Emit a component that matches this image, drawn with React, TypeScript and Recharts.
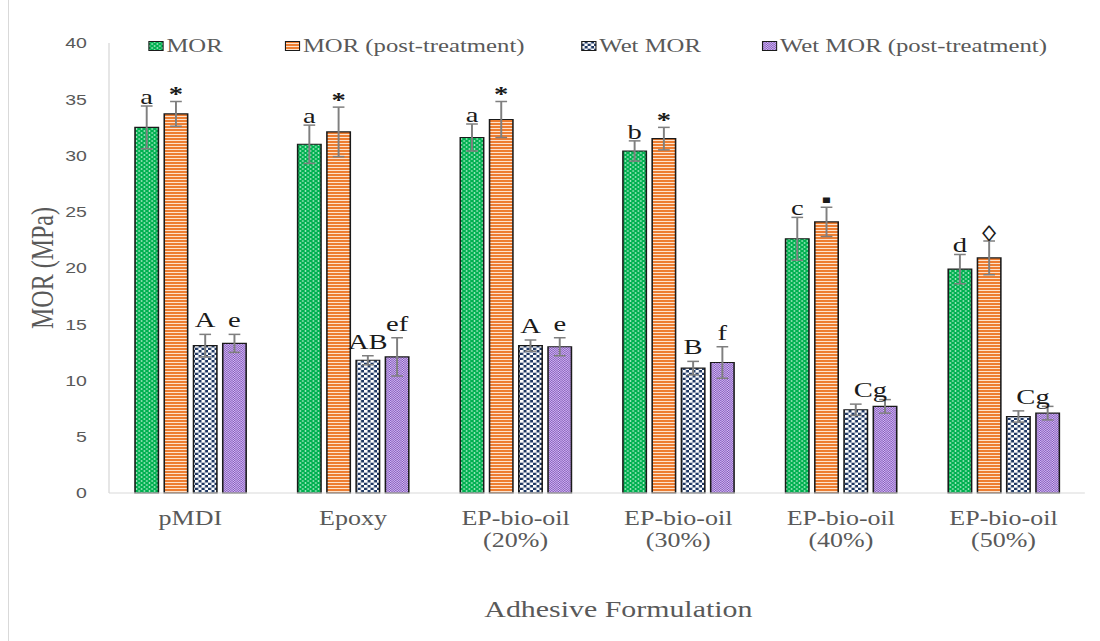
import React from "react";
import { Bar, BarChart, ErrorBar, LabelList, Legend, XAxis, YAxis } from "recharts";

const formulations = [
  "pMDI",
  "Epoxy",
  "EP-bio-oil (20%)",
  "EP-bio-oil (30%)",
  "EP-bio-oil (40%)",
  "EP-bio-oil (50%)",
];
const mor = [32.5, 31.0, 31.6, 30.4, 22.6, 19.9];
const morErr = [1.9, 1.7, 1.2, 0.9, 1.9, 1.3];
const morPost = [33.7, 32.1, 33.2, 31.5, 24.1, 20.9];
const morPostErr = [1.1, 2.2, 1.6, 1.0, 1.3, 1.5];
const wetMor = [13.1, 11.8, 13.1, 11.1, 7.4, 6.8];
const wetMorErr = [1.0, 0.4, 0.5, 0.6, 0.5, 0.5];
const wetMorPost = [13.3, 12.1, 13.0, 11.6, 7.7, 7.1];
const wetMorPostErr = [0.8, 1.7, 0.8, 1.4, 0.6, 0.6];

const morLetters = ["a", "a", "a", "b", "c", "d"];
const morPostMarks = ["*", "*", "*", "*", "▪", "◊"];
const wetLetters = ["A", "AB", "A", "B", "Cg", "Cg"];
const wetPostLetters = ["e", "ef", "e", "f", "", ""];

const yTicks = [0, 5, 10, 15, 20, 25, 30, 35, 40];

const data = formulations.map((name, i) => ({
  name,
  mor: mor[i],
  morErr: morErr[i],
  morPost: morPost[i],
  morPostErr: morPostErr[i],
  wet: wetMor[i],
  wetErr: wetMorErr[i],
  wetPost: wetMorPost[i],
  wetPostErr: wetMorPostErr[i],
}));

// the source picture is stretched sideways, so the chart is drawn narrow and scaled
const STRETCH = 1.3;
const W = 846;
const H = 641;
const BAR = 18;
const GAP = 4.5;

const serif = "'Liberation Serif', 'Times New Roman', serif";

const legendItems = [
  { name: "MOR", pattern: "pat-mor", left: 114 },
  { name: "MOR (post-treatment)", pattern: "pat-mor-post", left: 219 },
  { name: "Wet MOR", pattern: "pat-wet", left: 447 },
  { name: "Wet MOR (post-treatment)", pattern: "pat-wet-post", left: 586 },
];

function makeLabel(
  labels: string[],
  values: number[],
  errs: number[],
  lift: number,
  opts: { pairCenter?: boolean; bold?: boolean } = {},
) {
  return (props: any) => {
    const vb = props.viewBox ?? props;
    const { x, y, width, height } = vb;
    const i = props.index;
    const text = labels[i];
    if (!text) return null;
    const top = y - errs[i] * (height / values[i]);
    let cx = x + width / 2;
    if (opts.pairCenter && !wetPostLetters[i]) cx += (width + GAP) / 2;
    return (
      <text
        x={cx}
        y={top - lift}
        textAnchor="middle"
        fontFamily={serif}
        fontSize={22}
        fontWeight={opts.bold ? "bold" : "normal"}
        fill="#1a1a1a"
      >
        {text}
      </text>
    );
  };
}

function CategoryTick(props: any) {
  const { x, y, payload } = props;
  const lines = String(payload.value).split(" ");
  return (
    <text x={x} y={y} textAnchor="middle" fill="#595959" fontSize={20} fontFamily={serif}>
      {lines.map((l, i) => (
        <tspan key={i} x={x} dy={i === 0 ? 32 : 22}>
          {l}
        </tspan>
      ))}
    </text>
  );
}

function LegendRow() {
  return (
    <div style={{ position: "relative", height: 20 }}>
      {legendItems.map((it) => (
        <div
          key={it.name}
          style={{
            position: "absolute",
            left: it.left,
            top: 0,
            display: "flex",
            alignItems: "center",
            whiteSpace: "nowrap",
            fontFamily: serif,
            fontSize: 19,
            lineHeight: "19px",
            color: "#595959",
          }}
        >
          <svg width={12} height={10} style={{ marginRight: 2 }}>
            <rect x={0.5} y={0.5} width={11} height={9} fill={`url(#${it.pattern})`} stroke="#1a1a1a" />
          </svg>
          {it.name}
        </div>
      ))}
    </div>
  );
}

export default function App() {
  return (
    <>
      <div
        style={{
          position: "absolute",
          left: 8,
          top: 0,
          height: H,
          borderLeft: "1px solid #d9d9d9",
        }}
      />
      <div
        style={{
          position: "absolute",
          left: 0,
          top: 0,
          width: W,
          height: H,
          transform: `scaleX(${STRETCH})`,
          transformOrigin: "0 0",
        }}
      >
        <BarChart
          width={W}
          height={H}
          data={data}
          margin={{ top: 43, right: 11.5, left: 23.85, bottom: 48 }}
          barSize={BAR}
          barGap={GAP}
        >
          <defs>
            <pattern id="pat-mor" patternUnits="userSpaceOnUse" width={4} height={4}>
              <rect width={4} height={4} fill="#00b050" />
              <circle cx={1} cy={1} r={0.65} fill="#e6fff0" />
              <circle cx={3} cy={3} r={0.65} fill="#e6fff0" />
            </pattern>
            <pattern id="pat-mor-post" patternUnits="userSpaceOnUse" width={4} height={3}>
              <rect width={4} height={3} fill="#ed7d31" />
              <rect y={2} width={4} height={1} fill="#fde2cc" />
            </pattern>
            <pattern id="pat-wet" patternUnits="userSpaceOnUse" width={5} height={5}>
              <rect width={5} height={5} fill="#1f3864" />
              <rect x={0} y={0} width={2.7} height={2.7} fill="#ffffff" />
              <rect x={2.5} y={2.5} width={2.7} height={2.7} fill="#ffffff" />
            </pattern>
            <pattern id="pat-wet-post" patternUnits="userSpaceOnUse" width={2} height={2}>
              <rect width={2} height={2} fill="#d6c5ef" />
              <rect x={0} y={0} width={1} height={1} fill="#8250c0" />
              <rect x={1} y={1} width={1} height={1} fill="#8250c0" />
            </pattern>
          </defs>
          <XAxis
            dataKey="name"
            interval={0}
            height={100}
            tickLine={false}
            tickSize={0}
            tickMargin={0}
            axisLine={{ stroke: "#d9d9d9" }}
            tick={<CategoryTick />}
            label={{
              position: "insideBottom",
              content: (p: any) => {
                const vb = p.viewBox;
                return (
                  <text
                    x={vb.x + vb.width / 2 + 16.5}
                    y={vb.y + 123.7}
                    textAnchor="middle"
                    fontFamily={serif}
                    fontSize={23}
                    fill="#595959"
                  >
                    Adhesive Formulation
                  </text>
                );
              },
            }}
          />
          <YAxis
            type="number"
            domain={[0, 40]}
            ticks={yTicks}
            width={60}
            tickLine={false}
            tickMargin={11}
            axisLine={{ stroke: "#d9d9d9" }}
            tick={{ fill: "#595959", fontSize: 15, fontFamily: "'Liberation Sans', Arial, sans-serif" }}
            label={{
              position: "insideLeft",
              content: (p: any) => {
                const vb = p.viewBox;
                const x = vb.x + 17;
                const y = vb.y + vb.height / 2;
                return (
                  <text
                    x={x}
                    y={y}
                    transform={`rotate(-90 ${x} ${y})`}
                    textAnchor="middle"
                    fontFamily={serif}
                    fontSize={24}
                    fill="#595959"
                  >
                    MOR (MPa)
                  </text>
                );
              },
            }}
          />
          <Legend
            layout="horizontal"
            verticalAlign="middle"
            align="center"
            wrapperStyle={{ top: 36, left: 0, width: W }}
            content={() => <LegendRow />}
          />
          <Bar dataKey="mor" name="MOR" fill="url(#pat-mor)" stroke="#1a1a1a" strokeWidth={1.2} isAnimationActive={false}>
            <ErrorBar dataKey="morErr" width={4.5} stroke="#7f7f7f" strokeWidth={1.5} isAnimationActive={false} />
            <LabelList dataKey="mor" content={makeLabel(morLetters, mor, morErr, 2)} />
          </Bar>
          <Bar dataKey="morPost" name="MOR (post-treatment)" fill="url(#pat-mor-post)" stroke="#1a1a1a" strokeWidth={1.2} isAnimationActive={false}>
            <ErrorBar dataKey="morPostErr" width={4.5} stroke="#7f7f7f" strokeWidth={1.5} isAnimationActive={false} />
            <LabelList dataKey="morPost" content={makeLabel(morPostMarks, morPost, morPostErr, 0, { bold: true })} />
          </Bar>
          <Bar dataKey="wet" name="Wet MOR" fill="url(#pat-wet)" stroke="#1a1a1a" strokeWidth={1.2} isAnimationActive={false}>
            <ErrorBar dataKey="wetErr" width={4.5} stroke="#7f7f7f" strokeWidth={1.5} isAnimationActive={false} />
            <LabelList dataKey="wet" content={makeLabel(wetLetters, wetMor, wetMorErr, 7, { pairCenter: true })} />
          </Bar>
          <Bar dataKey="wetPost" name="Wet MOR (post-treatment)" fill="url(#pat-wet-post)" stroke="#1a1a1a" strokeWidth={1.2} isAnimationActive={false}>
            <ErrorBar dataKey="wetPostErr" width={4.5} stroke="#7f7f7f" strokeWidth={1.5} isAnimationActive={false} />
            <LabelList dataKey="wetPost" content={makeLabel(wetPostLetters, wetMorPost, wetMorPostErr, 7)} />
          </Bar>
        </BarChart>
      </div>
    </>
  );
}
